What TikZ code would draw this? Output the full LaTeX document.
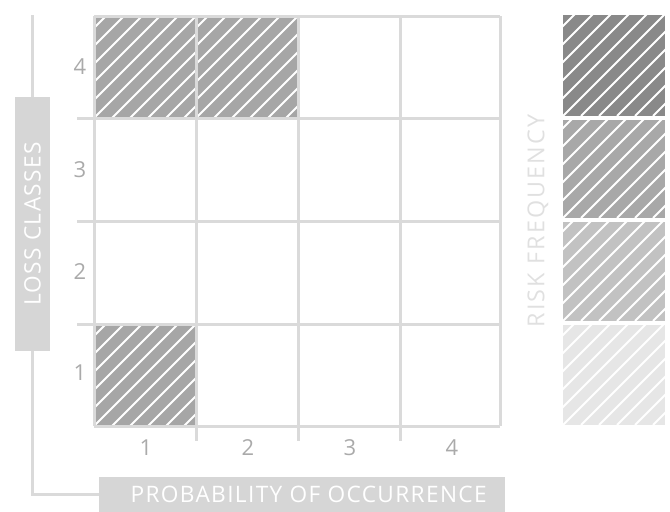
\documentclass[tikz,border=0pt]{standalone}
\usepackage{fontspec}
\setmainfont{Open Sans}
\usetikzlibrary{positioning}
\definecolor{gridline}{HTML}{DADADA}
\definecolor{axisbox}{HTML}{D6D6D6}
\definecolor{numtext}{HTML}{AAAAAA}
\definecolor{hatchfill}{HTML}{A6A6A6}
\definecolor{freqA}{HTML}{898989}
\definecolor{freqB}{HTML}{A8A8A8}
\definecolor{freqC}{HTML}{C2C2C2}
\definecolor{freqD}{HTML}{E6E6E6}
\definecolor{freqtext}{HTML}{E0E0E0}

% hatched square: fill colour, x0, y0, x1, y1
\newcommand{\hatchcell}[5]{%
  \begin{scope}
    \clip (#2,#3) rectangle (#4,#5);
    \fill[#1] (#2,#3) rectangle (#4,#5);
    \foreach \k in {-126,-108,...,126}
      \draw[white, line width=1.5pt] ({#2+\k},#5) -- ++(112,-112);
  \end{scope}}

\begin{document}
\begin{tikzpicture}[x=0.75pt, y=-0.75pt,
    gl/.style={gridline, line width=2.25pt},
    num/.style={font=\fontsize{16.5}{18}\selectfont, text=numtext},
    widefont/.style={font=\fontsize{17}{20}\selectfont\addfontfeature{LetterSpace=6}},
    axislabel/.style={fill=axisbox, text=white, widefont, inner sep=0pt}]
  \useasboundingbox (0,0) rectangle (670,511);
  % hatched cells of the matrix
  \hatchcell{hatchfill}{94}{16}{196}{118}
  \hatchcell{hatchfill}{196}{16}{298}{118}
  \hatchcell{hatchfill}{94}{324}{196}{426}
  % grid, inner lines run out as ticks
  \foreach \x in {94,500} \draw[gl] (\x,16) -- (\x,426);
  \foreach \x in {196,298,400} \draw[gl] (\x,16) -- (\x,441);
  \foreach \y in {16,426} \draw[gl] (94,\y) -- (500,\y);
  \foreach \y in {118,221,324} \draw[gl] (77,\y) -- (500,\y);
  % row and column numbers
  \node[num] (r4) at (80,67) {4};
  \node[num] (r3) at (80,170) {3};
  \node[num] (r2) at (80,272) {2};
  \node[num] (r1) at (80,373) {1};
  \node[num] (c1) at (146,448) {1};
  \node[num] (c2) at (248,448) {2};
  \node[num] (c3) at (350,448) {3};
  \node[num] (c4) at (452,448) {4};
  % axis labels
  \node[axislabel, rotate=90, minimum width=190.5pt, minimum height=26.25pt] (loss) at (32.5,224) {LOSS CLASSES};
  \node[axislabel, minimum width=304.5pt, minimum height=26.25pt] (prob) at (302,494.5) {\hspace{10pt}PROBABILITY OF OCCURRENCE};
  \coordinate (axtop) at (32.5,15);
  \draw[gridline, line width=2.25pt] (axtop) -- (loss.east);
  \draw[gridline, line width=2.25pt] (loss.west) |- (prob.west);
  % risk frequency legend
  \hatchcell{freqA}{563}{15}{665}{116}
  \hatchcell{freqB}{563}{120}{665}{218}
  \hatchcell{freqC}{563}{222}{665}{321}
  \hatchcell{freqD}{563}{325}{665}{425}
  \node[rotate=90, text=freqtext, font=\fontsize{17.5}{20}\selectfont\addfontfeature{LetterSpace=9}] (freq) at (538,221) {RISK FREQUENCY};
\end{tikzpicture}
\end{document}
